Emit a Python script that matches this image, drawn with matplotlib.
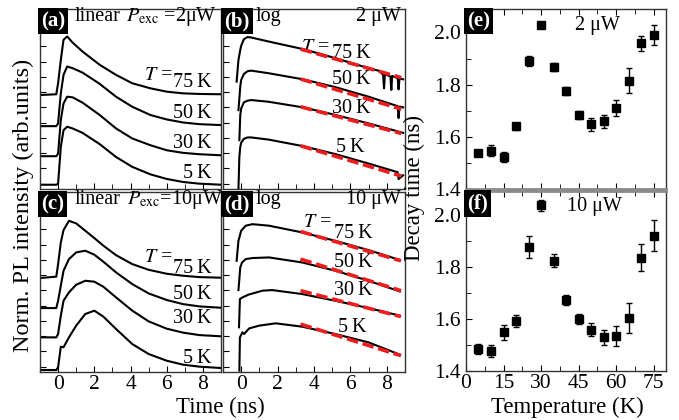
import matplotlib.pyplot as plt
from matplotlib.ticker import MultipleLocator, FormatStrFormatter

plt.rcParams['font.family'] = ['Liberation Serif', 'DejaVu Serif']
plt.rcParams['mathtext.fontset'] = 'stix'

# ---- data (trace values in arbitrary offset units) ----
# panel (a): linear, 2 uW
t_a = [-1, -0.1, 0, 0.15, 0.3, 0.5, 0.8, 1.35, 2.3, 3.2, 4.1, 5.1, 6.0, 6.9, 7.8, 9.0]
a_75 = [5.81, 5.86, 6.58, 8.11, 9.43, 9.65, 9.25, 8.66, 7.79, 7.13, 6.58, 6.25, 6.03, 5.92, 5.88, 5.86]
a_50 = [3.77, 3.77, 3.95, 5.92, 7.13, 7.68, 7.57, 7.28, 6.54, 5.70, 5.04, 4.50, 4.21, 4.01, 3.90, 3.84]
a_30 = [1.80, 1.80, 1.97, 4.17, 5.26, 5.70, 5.66, 5.31, 4.50, 3.62, 2.96, 2.52, 2.19, 2.02, 1.93, 1.86]
a_5 = [-0.07, -0.07, 0.0, 2.41, 3.51, 3.73, 3.62, 3.33, 2.59, 1.75, 1.10, 0.61, 0.31, 0.11, 0.0, -0.07]

# panel (c): linear, 10 uW
t_c = [-1, -0.1, 0, 0.15, 0.3, 0.6, 1.0, 1.5, 2.0, 2.5, 3.2, 4.1, 5.0, 6.0, 6.9, 7.8, 9.0]
c_75 = [5.81, 5.90, 6.72, 8.14, 8.95, 9.56, 9.39, 8.91, 8.43, 7.93, 7.31, 6.72, 6.35, 6.09, 5.96, 5.87, 5.83]
c_50 = [3.84, 3.84, 4.32, 5.31, 6.29, 7.05, 7.49, 7.60, 7.34, 6.88, 6.18, 5.41, 4.80, 4.37, 4.10, 3.95, 3.86]
c_30 = [1.92, 1.92, 2.14, 3.34, 4.32, 4.87, 5.37, 5.63, 5.57, 5.24, 4.54, 3.67, 2.97, 2.49, 2.23, 2.07, 1.99]
c_5 = [-0.22, -0.22, -0.04, 1.31, 1.27, 1.92, 2.69, 3.45, 3.67, 3.28, 2.47, 1.48, 0.83, 0.39, 0.13, 0.0, -0.09]

# panel (b): log, 2 uW
b_75_t = [-0.25, -0.15, -0.05, 0, 0.15, 0.35, 0.55, 1.5, 3.4, 5.2, 7.0, 7.6, 7.8, 7.85, 7.9, 8.2, 8.25, 8.3, 8.6, 8.65, 8.7, 8.9]
b_75 = [6.69, 8.11, 8.77, 9.04, 9.47, 9.61, 9.58, 9.32, 8.82, 8.22, 7.57, 7.39, 7.13, 6.25, 7.19, 7.02, 6.14, 7.06, 6.91, 6.18, 6.89, 6.84]
b_50_t = [-0.15, -0.05, 0, 0.15, 0.35, 0.55, 1.5, 3.4, 5.2, 7.0, 8.6, 8.65, 8.7, 8.9]
b_50 = [4.82, 6.36, 6.80, 7.19, 7.37, 7.41, 7.24, 6.84, 6.32, 5.70, 5.08, 4.30, 5.05, 5.00]
b_30_t = [-0.1, -0.05, 0, 0.15, 0.35, 0.55, 1.5, 3.4, 5.2, 7.0, 8.9]
b_30 = [2.85, 4.50, 4.93, 5.33, 5.44, 5.48, 5.37, 5.00, 4.50, 3.95, 3.33]
b_5_t = [-0.15, -0.1, -0.05, 0, 0.15, 0.35, 0.55, 1.5, 3.4, 5.2, 7.0, 8.6, 8.65, 8.9]
b_5 = [-0.33, 1.75, 2.41, 2.68, 2.94, 3.03, 3.03, 2.89, 2.46, 1.93, 1.32, 0.75, 0.30, 0.55]
fit_b_t = [3.27, 8.8]
fit_b_75 = [8.82, 6.95]
fit_b_50 = [6.86, 4.89]
fit_b_30 = [5.04, 3.29]
fit_b_5 = [2.48, 0.50]

# panel (d): log, 10 uW
d_75_t = [-0.25, -0.15, 0, 0.25, 0.62, 1.53, 3.35, 5.17, 7.0, 8.72]
d_75 = [6.94, 8.25, 8.91, 9.24, 9.34, 9.24, 8.80, 8.25, 7.64, 6.99]
d_50_t = [-0.15, -0.05, 0.05, 0.25, 0.62, 1.53, 3.35, 5.17, 7.0, 8.72]
d_50 = [5.02, 6.51, 6.83, 7.05, 7.12, 7.16, 6.83, 6.29, 5.63, 4.93]
d_30_t = [-0.12, -0.07, 0.07, 0.4, 1.17, 1.7, 3.35, 5.17, 7.0, 8.72]
d_30 = [2.58, 4.43, 4.54, 4.72, 4.98, 5.02, 4.76, 4.32, 3.84, 3.34]
d_5_t = [-0.1, -0.07, 0.07, 0.16, 0.44, 1.0, 1.9, 3.35, 5.17, 7.0, 8.72]
d_5 = [-0.26, 1.92, 2.25, 2.14, 2.51, 2.69, 2.84, 2.62, 2.14, 1.59, 0.79]
fit_d_t = [3.26, 8.78]
fit_d_75 = [8.86, 6.94]
fit_d_50 = [7.05, 4.98]
fit_d_30 = [4.98, 3.28]
fit_d_5 = [2.79, 0.72]

# panels (e), (f): decay times
temps = [5, 10, 15, 20, 25, 30, 35, 40, 45, 50, 55, 60, 65, 70, 75]
tau_2uw = [1.537, 1.547, 1.522, 1.64, 1.89, 2.03, 1.867, 1.775, 1.685, 1.648, 1.66, 1.71, 1.815, 1.958, 1.99]
err_2uw = [0.012, 0.02, 0.02, 0.012, 0.02, 0.012, 0.015, 0.015, 0.015, 0.025, 0.025, 0.03, 0.047, 0.03, 0.037]
tau_10uw = [1.485, 1.477, 1.549, 1.592, 1.875, 2.036, 1.823, 1.673, 1.601, 1.56, 1.53, 1.535, 1.604, 1.836, 1.92]
err_10uw = [0.02, 0.022, 0.03, 0.022, 0.042, 0.02, 0.025, 0.02, 0.02, 0.025, 0.03, 0.038, 0.056, 0.053, 0.058]

temp_labels = ["75\u2009K", "50\u2009K", "30\u2009K", "5\u2009K"]

fig = plt.figure(figsize=(6.79, 4.20), dpi=100)

ax_a = fig.add_axes([0.0589, 0.550, 0.2666, 0.4286])
ax_c = fig.add_axes([0.0589, 0.1143, 0.2666, 0.4286])
ax_b = fig.add_axes([0.3284, 0.550, 0.268, 0.4286])
ax_d = fig.add_axes([0.3284, 0.1143, 0.268, 0.4286])
ax_e = fig.add_axes([0.6863, 0.550, 0.2946, 0.4286])
ax_f = fig.add_axes([0.6863, 0.1160, 0.2946, 0.4286])

FS = 14.5


def panel_tag(ax, tag):
    ax.text(0.006, 0.988, tag, transform=ax.transAxes, ha='left', va='top',
            color='white', fontweight='bold', fontsize=15, zorder=10,
            bbox=dict(facecolor='black', edgecolor='none', pad=2.2))


def style_trace_axes(ax, show_xlabels):
    ax.set_xlim(-1, 9)
    ax.set_ylim(-0.35, 11.45)
    ax.xaxis.set_major_locator(MultipleLocator(2))
    ax.xaxis.set_minor_locator(MultipleLocator(1))
    ax.yaxis.set_major_locator(MultipleLocator(1))
    ax.tick_params(which='both', direction='in', top=False, right=False,
                   labelleft=False, labelsize=15.5, pad=2)
    ax.tick_params(which='major', length=4)
    ax.tick_params(which='minor', length=3.5)
    if not show_xlabels:
        ax.tick_params(labelbottom=False)
    for s in ax.spines.values():
        s.set_linewidth(1.0)
        s.set_color('#333333')


lw_trace = 1.5

# (a)
for y in [a_75, a_50, a_30, a_5]:
    ax_a.plot(t_a, y, color='black', lw=lw_trace)
style_trace_axes(ax_a, False)
panel_tag(ax_a, "(a)")
ax_a.text(0.9, 10.95, "linear", fontsize=FS, va='center')
ax_a.text(3.75, 10.95, r"$P_{\rm exc}$ =2μW", fontsize=FS, va='center')
ax_a.text(6.33, 7.12, r"$T$ =", fontsize=FS, ha='right', va='center')
for lab, yy in zip(temp_labels, [6.6, 4.62, 2.65, 0.68]):
    ax_a.text(8.5, yy, lab, fontsize=FS, ha='right', va='center')

# (c)
for y in [c_75, c_50, c_30, c_5]:
    ax_c.plot(t_c, y, color='black', lw=lw_trace)
style_trace_axes(ax_c, True)
panel_tag(ax_c, "(c)")
ax_c.text(0.9, 10.95, "linear", fontsize=FS, va='center')
ax_c.text(3.8, 10.95, r"$P_{\rm exc}$=10μW", fontsize=FS, va='center')
ax_c.text(6.33, 7.14, r"$T$ =", fontsize=FS, ha='right', va='center')
for lab, yy in zip(temp_labels, [6.45, 4.72, 3.14, 0.52]):
    ax_c.text(8.5, yy, lab, fontsize=FS, ha='right', va='center')

# (b)
for tt, y in [(b_75_t, b_75), (b_50_t, b_50), (b_30_t, b_30), (b_5_t, b_5)]:
    ax_b.plot(tt, y, color='black', lw=lw_trace)
for y in [fit_b_75, fit_b_50, fit_b_30, fit_b_5]:
    ax_b.plot(fit_b_t, y, color='#ee1c1c', lw=2.6, dashes=(3.2, 1.3), zorder=5)
style_trace_axes(ax_b, False)
panel_tag(ax_b, "(b)")
ax_b.text(0.8, 10.95, "log", fontsize=FS, va='center')
ax_b.text(8.8, 10.95, "2 μW", fontsize=FS, ha='right', va='center')
ax_b.text(4.85, 8.95, r"$T$ =", fontsize=FS, ha='right', va='center')
for lab, xx, yy in zip(temp_labels, [4.99, 4.99, 4.99, 5.2], [8.5, 6.8, 4.95, 2.39]):
    ax_b.text(xx, yy, lab, fontsize=FS, ha='left', va='center')

# (d)
for tt, y in [(d_75_t, d_75), (d_50_t, d_50), (d_30_t, d_30), (d_5_t, d_5)]:
    ax_d.plot(tt, y, color='black', lw=lw_trace)
for y in [fit_d_75, fit_d_50, fit_d_30, fit_d_5]:
    ax_d.plot(fit_d_t, y, color='#ee1c1c', lw=2.6, dashes=(3.2, 1.3), zorder=5)
style_trace_axes(ax_d, True)
panel_tag(ax_d, "(d)")
ax_d.text(0.8, 10.95, "log", fontsize=FS, va='center')
ax_d.text(8.8, 10.95, "10 μW", fontsize=FS, ha='right', va='center')
ax_d.text(4.97, 9.43, r"$T$ =", fontsize=FS, ha='right', va='center')
for lab, xx, yy in zip(temp_labels, [5.08, 5.08, 5.08, 5.3], [8.71, 6.81, 4.98, 2.55]):
    ax_d.text(xx, yy, lab, fontsize=FS, ha='left', va='center')


def style_tau_axes(ax, show_xlabels):
    ax.set_xlim(0, 80)
    ax.set_ylim(1.4, 2.09)
    ax.xaxis.set_major_locator(MultipleLocator(15))
    ax.xaxis.set_minor_locator(MultipleLocator(7.5))
    ax.yaxis.set_major_locator(MultipleLocator(0.2))
    ax.yaxis.set_minor_locator(MultipleLocator(0.1))
    ax.yaxis.set_major_formatter(FormatStrFormatter('%.1f'))
    ax.tick_params(which='both', direction='in', top=True, right=False,
                   labelsize=15.5, pad=2)
    ax.tick_params(axis='y', pad=3.5)
    ax.tick_params(which='major', length=4)
    ax.tick_params(which='minor', length=3.5)
    if not show_xlabels:
        ax.tick_params(labelbottom=False)
    for s in ax.spines.values():
        s.set_linewidth(1.0)
        s.set_color('#333333')


ax_e.errorbar(temps, tau_2uw, yerr=err_2uw, fmt='s', color='black', ms=5.5,
              capsize=2.5, elinewidth=1.0, capthick=1.0)
style_tau_axes(ax_e, False)
ax_e.spines['bottom'].set_color('#8a8a8a')
ax_e.spines['bottom'].set_linewidth(2.0)
panel_tag(ax_e, "(e)")
ax_e.text(43.5, 2.025, "2 μW", fontsize=FS, ha='left', va='center')

ax_f.errorbar(temps, tau_10uw, yerr=err_10uw, fmt='s', color='black', ms=5.5,
              capsize=2.5, elinewidth=1.0, capthick=1.0, clip_on=False)
style_tau_axes(ax_f, True)
ax_f.spines['top'].set_color('#8a8a8a')
ax_f.spines['top'].set_linewidth(2.0)
panel_tag(ax_f, "(f)")
ax_f.text(40.3, 2.03, "10 μW", fontsize=FS, ha='left', va='center')

fig.text(0.034, 0.512, "Norm. PL intensity (arb.units)", rotation=90,
         fontsize=17.5, ha='center', va='center')
fig.text(0.324, 0.029, "Time (ns)", fontsize=16.5, ha='center', va='center')
fig.text(0.835, 0.029, "Temperature (K)", fontsize=16.5, ha='center', va='center')
fig.text(0.611, 0.552, "Decay time (ns)", rotation=90, fontsize=16.5,
         ha='center', va='center')

fig.savefig("out.png", dpi=100)
